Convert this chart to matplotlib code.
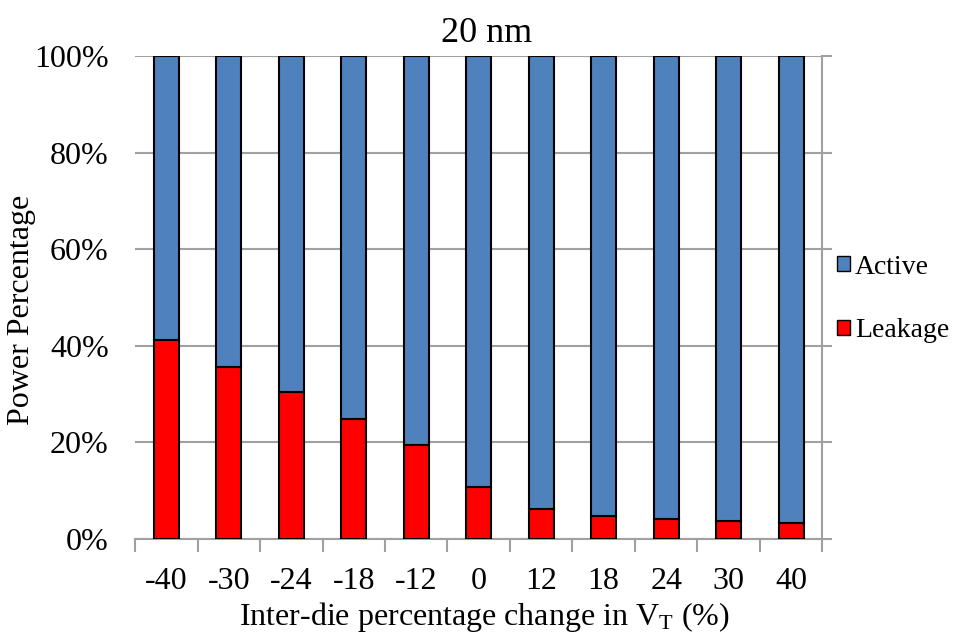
import numpy as np
import matplotlib
matplotlib.use('Agg')
import matplotlib.pyplot as plt
from matplotlib.patches import Patch

plt.rcParams['font.family'] = ['Liberation Serif', 'DejaVu Serif']
plt.rcParams['mathtext.fontset'] = 'custom'
plt.rcParams['mathtext.rm'] = 'Liberation Serif'
plt.rcParams['mathtext.it'] = 'Liberation Serif:italic'

# données
categories = ['-40', '-30', '-24', '-18', '-12', '0', '12', '18', '24', '30', '40']
leakage = [41.2, 35.5, 30.5, 24.9, 19.4, 10.8, 6.1, 4.8, 4.1, 3.6, 3.2]
active = [100 - v for v in leakage]

BLEU = '#4f81bd'
ROUGE = '#ff0000'
GRIS = '#a0a0a0'

fig = plt.figure(figsize=(9.79, 6.43), dpi=100)
ax = fig.add_axes([0.138, 0.162, 0.702, 0.751])

x = np.arange(len(categories))
ax.bar(x, leakage, width=0.4, color=ROUGE, edgecolor='black', linewidth=1.5, zorder=3)
ax.bar(x, active, width=0.4, bottom=leakage, color=BLEU, edgecolor='black', linewidth=1.5, zorder=3)

ax.set_xlim(-0.5, len(categories) - 0.5)
ax.set_ylim(0, 100)
ax.set_yticks(np.arange(0, 101, 20))
ax.set_yticklabels([f'{v}%' for v in range(0, 101, 20)])
ax.yaxis.grid(True, color=GRIS, linewidth=1.5, zorder=0)

ax.set_xticks(x)
ax.set_xticklabels(categories)
ax.set_xticks(np.arange(-0.5, len(categories), 1), minor=True)
ax.tick_params(axis='x', which='major', length=0, pad=20, labelsize=23)
ax.tick_params(axis='x', which='minor', length=9, width=1.5, color=GRIS, direction='out')
ax.tick_params(axis='y', length=0, labelsize=23, pad=19)

for side in ['top', 'left']:
    ax.spines[side].set_visible(False)
for side in ['bottom', 'right']:
    ax.spines[side].set_color(GRIS)
    ax.spines[side].set_linewidth(1.5)

# petits traits sur l'axe de droite
ax2 = ax.twinx()
ax2.set_ylim(0, 100)
ax2.set_yticks(np.arange(0, 101, 20))
ax2.set_yticklabels([])
ax2.tick_params(axis='y', direction='out', length=7, width=1.5, color=GRIS)
for side in ['top', 'left', 'bottom', 'right']:
    ax2.spines[side].set_visible(False)

ax.set_title('20 nm', fontsize=26, pad=10, x=0.512)
fig.text(22 / 979, 1 - 310 / 643, 'Power Percentage', fontsize=23,
         rotation=90, ha='center', va='center')
fig.text(0.495, 1 - 625 / 643, r'Inter-die percentage change in V$_\mathrm{T}$ (%)',
         fontsize=23, ha='center', va='baseline')

handles = [Patch(facecolor=BLEU, edgecolor='black', label='Active'),
           Patch(facecolor=ROUGE, edgecolor='black', label='Leakage')]
fig.legend(handles=handles, loc='center left', bbox_to_anchor=(0.855, 0.535),
           frameon=False, fontsize=20, handlelength=0.45, handleheight=0.45,
           handletextpad=0.2, labelspacing=1.4, borderaxespad=0, borderpad=0)

fig.savefig('out.png', dpi=100)
